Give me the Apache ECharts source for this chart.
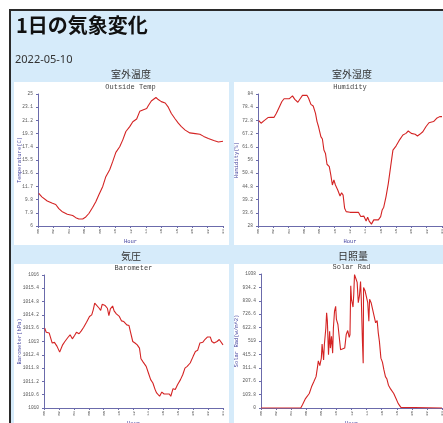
<!DOCTYPE html>
<html>
<head>
<meta charset="utf-8">
<script src="https://cdn.jsdelivr.net/npm/echarts@6/dist/echarts.min.js"></script>
<style>
  html, body { margin: 0; padding: 0; background: #ffffff; }
  #main { width: 443px; height: 423px; }
</style>
</head>
<body>
<div id="main"></div>
<script>
// Daily weather readings for 2022-05-10 (hour of day, value)
const hourTicks = [0, 2, 4, 6, 8, 10, 12, 14, 16, 18, 20, 22, 24];

const tempHours = [0.1,0.5,1.2,1.8,2.3,2.7,3.1,3.8,4.5,4.9,5.3,5.8,6.2,6.6,7.1,7.5,7.9,8.4,8.8,9.3,9.7,10.1,10.6,11.0,11.4,11.9,12.3,12.8,13.2,13.6,14.1,14.3,14.7,15.3,15.6,16.0,16.5,16.9,17.3,17.8,18.2,18.6,19.1,19.7,20.4,21.0,21.5,22.1,22.8,23.4,24.0];
const tempValues = [10.7,10.2,9.6,9.3,9.1,8.5,8.1,7.7,7.5,7.2,7.0,7.0,7.3,7.8,8.7,9.5,10.5,11.7,13.1,14.1,15.3,16.6,17.4,18.4,19.6,20.3,21.0,21.4,22.5,22.7,22.9,23.3,24.0,24.5,24.2,23.9,23.7,23.1,22.2,21.4,20.8,20.3,19.8,19.4,19.3,19.2,18.9,18.6,18.3,18.1,18.2];

const humHours = [0.1,0.4,0.8,1.3,1.5,1.7,2.1,2.4,2.8,3.1,3.4,4.1,4.5,4.8,5.2,5.5,5.8,6.4,6.6,6.9,7.2,7.5,7.7,7.9,8.2,8.4,8.6,8.8,9.0,9.3,9.5,9.7,9.9,10.1,10.4,10.7,10.9,11.1,11.3,11.5,12.0,13.1,13.4,13.6,13.8,14.1,14.3,14.5,14.8,15.1,15.7,16.0,16.2,16.4,16.7,17.0,17.3,17.6,18.0,18.4,18.9,19.3,19.6,20.0,20.5,20.8,21.1,21.5,21.9,22.3,22.9,23.3,23.7,24.0];
const humValues = [72.7,71.6,72.7,74.0,74.8,74.1,74.1,75.8,78.6,80.7,82.0,82.0,83.2,81.7,80.5,82.0,83.4,83.4,82.2,79.6,78.9,75.8,72.3,70.1,65.9,64.9,60.2,58.8,54.2,53.2,49.6,45.4,47.5,45.4,43.3,40.7,42.1,41.1,35.5,34.1,33.8,33.8,32.0,31.2,32.2,30.1,31.7,30.1,28.8,30.6,30.6,32.0,34.8,36.0,40.5,46.1,53.2,60.2,61.9,64.2,66.6,67.3,68.3,67.3,66.9,66.2,66.9,68.0,70.1,71.8,72.3,73.7,74.4,74.4];

const baroHours = [0.1,0.3,0.7,0.85,1.1,1.4,1.75,2.1,2.5,2.8,3.2,3.5,3.8,4.1,4.35,4.7,5.0,5.3,5.7,5.9,6.1,6.4,6.6,6.8,7.0,7.4,7.6,7.8,8.2,8.5,8.7,8.9,9.2,9.4,9.7,10.1,10.4,10.7,11.1,11.4,11.6,11.9,12.2,12.5,12.8,13.0,13.3,13.7,14.0,14.3,14.6,14.9,15.1,15.5,15.8,16.1,16.5,16.8,17.0,17.3,17.6,17.9,18.3,18.6,18.9,19.2,19.6,20.0,20.3,20.6,20.9,21.3,21.6,21.9,22.3,22.5,22.8,23.2,23.5,23.7,24.0];
const baroValues = [1013.6,1013.42,1013.38,1013.3,1012.93,1012.96,1012.78,1012.52,1012.85,1013.0,1013.18,1013.3,1013.12,1013.27,1013.42,1013.35,1013.48,1013.63,1013.87,1013.81,1014.13,1014.2,1014.43,1014.73,1014.68,1014.5,1014.4,1014.68,1014.62,1014.5,1014.17,1014.47,1014.6,1014.38,1014.25,1014.13,1013.93,1013.9,1013.75,1013.72,1013.42,1013.0,1012.93,1012.85,1012.7,1012.22,1012.07,1011.88,1011.58,1011.28,1011.13,1010.83,1010.68,1010.53,1010.72,1010.63,1010.63,1010.63,1010.53,1010.87,1010.83,1011.05,1011.28,1011.5,1011.8,1011.88,1012.03,1012.33,1012.55,1012.6,1012.93,1012.97,1013.1,1013.2,1013.2,1013.0,1012.93,1013.0,1013.09,1013.03,1012.85];

const solarHours = [0,5.27,5.5,5.9,6.4,6.7,7.0,7.3,7.5,7.6,7.8,8.0,8.1,8.3,8.4,8.6,8.7,8.8,8.95,9.1,9.2,9.35,9.5,9.6,9.75,9.9,10.0,10.2,10.4,10.55,10.8,11.1,11.3,11.5,11.7,11.8,11.9,12.0,12.2,12.3,12.4,12.6,12.75,12.9,13.05,13.2,13.3,13.45,13.55,13.6,13.8,14.0,14.15,14.3,14.4,14.6,14.8,15.0,15.2,15.4,15.55,15.7,15.9,16.1,16.3,16.5,16.7,16.9,17.2,17.6,17.9,18.2,18.55,18.7,24];
const solarValues = [0,0,26,73,112,164,203,243,321,365,328,386,496,373,490,620,738,673,412,595,464,555,425,620,751,788,686,647,655,451,443,464,569,600,547,569,947,842,782,881,1033,999,973,816,868,980,842,516,347,934,908,895,816,673,842,816,764,712,660,678,582,516,386,355,295,243,224,177,146,112,73,34,5,0,0];

// Y scale settings: [min, max, step]
const tempScale = [6, 25, 1.9];
const humScale = [28, 84, 5.6];
const baroScale = [1010, 1016, 0.6];
const solarScale = [0, 1038, 103.8];

const sectionTitles = ['室外温度', '室外湿度', '気圧', '日照量'];
const chartTitles = ['Outside Temp', 'Humidity', 'Barometer', 'Solar Rad'];
const yNames = ['Temperature(C)', 'Humidity(%)', 'Barometer(hPa)', 'Solar Rad(w/m^2)'];

const pairs = (xs, ys) => xs.map((x, i) => [x, ys[i]]);

const AXIS_COLOR = '#6b6bab';
const NAME_COLOR = '#4545a0';
const LINE_COLOR = '#d42424';
const MONO = '"Liberation Mono", "DejaVu Sans Mono", monospace';
const CJK = '"Noto Sans CJK JP", "Noto Sans", sans-serif';

// plot rectangles [left, top, width, height]
const grids = [
  [38, 94, 185, 132],
  [258, 94, 184, 132],
  [44, 275, 179, 133],
  [261, 274, 181, 134]
];
const scales = [tempScale, humScale, baroScale, solarScale];
const seriesData = [
  pairs(tempHours, tempValues),
  pairs(humHours, humValues),
  pairs(baroHours, baroValues),
  pairs(solarHours, solarValues)
];
// white panel boxes [x, y, w, h]
const panels = [
  [14, 82, 215, 163],
  [234, 82, 215, 163],
  [14, 264, 215, 165],
  [234, 264, 215, 165]
];
const sectionPos = [[131, 74.5], [352, 74.5], [131, 256], [353, 256]];

const chart = echarts.init(document.getElementById('main'), null, { renderer: 'canvas' });

const graphics = [
  { type: 'rect', z: -20, shape: { x: 10, y: 10, width: 500, height: 500 },
    style: { fill: '#d6ebfa', stroke: '#2a2a2a', lineWidth: 2 } },
  { type: 'text', z: 50, x: 16, y: 25,
    style: { text: '1日の気象変化', font: 'bold 20px ' + CJK, fill: '#111', textVerticalAlign: 'middle' } },
  { type: 'text', z: 50, x: 15, y: 60,
    style: { text: '2022-05-10', font: '11px "Noto Sans", sans-serif', fill: '#333', textVerticalAlign: 'middle' } }
];

panels.forEach((p, i) => {
  graphics.push({ type: 'rect', z: -10, shape: { x: p[0], y: p[1], width: p[2], height: p[3] },
    style: { fill: '#ffffff' } });
  graphics.push({ type: 'text', z: 50, x: sectionPos[i][0], y: sectionPos[i][1],
    style: { text: sectionTitles[i], font: '10px ' + CJK, fill: '#333', textAlign: 'center', textVerticalAlign: 'middle' } });
  const g = grids[i];
  const cx = g[0] + g[2] / 2;
  graphics.push({ type: 'text', z: 50, x: cx, y: g[1] - 7,
    style: { text: chartTitles[i], font: '7px ' + MONO, fill: '#444', textAlign: 'center', textVerticalAlign: 'middle' } });
  graphics.push({ type: 'text', z: 50, x: cx, y: g[1] + g[3] + 15.5,
    style: { text: 'Hour', font: '5.5px ' + MONO, fill: NAME_COLOR, textAlign: 'center', textVerticalAlign: 'middle' } });
  graphics.push({ type: 'text', z: 50, x: (i % 2 === 0 ? 20 : 237), y: g[1] + g[3] / 2, rotation: Math.PI / 2,
    style: { text: yNames[i], font: '5.5px ' + MONO, fill: NAME_COLOR, textAlign: 'center', textVerticalAlign: 'middle' } });
});

const fmt1 = v => String(parseFloat(v.toFixed(1)));

const option = {
  animation: false,
  backgroundColor: 'transparent',
  graphic: { elements: graphics },
  grid: grids.map(g => ({ left: g[0], top: g[1], width: g[2], height: g[3], containLabel: false, outerBoundsMode: 'none' })),
  xAxis: grids.map((g, i) => ({
    type: 'value', gridIndex: i, min: hourTicks[0], max: hourTicks[hourTicks.length - 1], interval: 2,
    axisLine: { show: true, lineStyle: { color: AXIS_COLOR, width: 1 } },
    axisTick: { show: true, length: 2, lineStyle: { color: AXIS_COLOR } },
    axisLabel: { show: true, rotate: 90, margin: 3, fontSize: 4, color: '#555', fontFamily: MONO,
      formatter: v => String(Math.round(v)).padStart(2, '0') },
    splitLine: { show: false }
  })),
  yAxis: scales.map((s, i) => ({
    type: 'value', gridIndex: i, min: s[0], max: s[1], interval: s[2],
    axisLine: { show: true, lineStyle: { color: AXIS_COLOR, width: 1 } },
    axisTick: { show: true, length: 2, lineStyle: { color: AXIS_COLOR } },
    axisLabel: { show: true, margin: 5, fontSize: 4.5, color: '#555', fontFamily: MONO, formatter: fmt1 },
    splitLine: { show: false }
  })),
  series: seriesData.map((d, i) => ({
    type: 'line', xAxisIndex: i, yAxisIndex: i, data: d, showSymbol: false, symbol: 'none',
    lineStyle: { color: LINE_COLOR, width: 1.1 }, z: 3
  }))
};

chart.setOption(option);
</script>
</body>
</html>
